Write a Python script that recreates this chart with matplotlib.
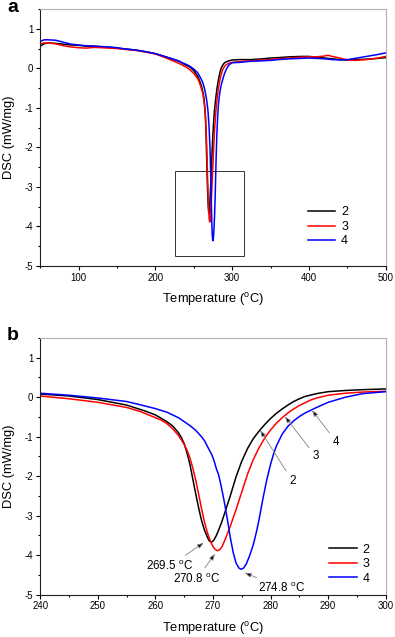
import numpy as np
import matplotlib
matplotlib.use("Agg")
import matplotlib.pyplot as plt
from matplotlib.patches import Rectangle
from matplotlib.ticker import MultipleLocator

plt.rcParams["font.family"] = ["Liberation Sans", "DejaVu Sans"]
plt.rcParams["mathtext.default"] = "regular"
plt.rcParams["axes.unicode_minus"] = False

# peak region
peak_x_2 = [240, 245, 250, 255, 258, 260, 262, 263, 264, 264.5, 265, 265.5, 266, 266.5, 267, 267.5,
            268, 268.5, 269, 269.3, 269.6, 269.9, 270.2, 270.6, 271, 271.5, 272, 273, 274, 275, 276,
            277, 278, 279, 280, 281, 282, 283, 284, 285, 286, 288, 290, 293, 296, 300]
peak_y_2 = [0.08, 0.03, -0.06, -0.20, -0.34, -0.45, -0.62, -0.73, -0.90, -1.02, -1.18, -1.42, -1.71,
            -2.08, -2.45, -2.80, -3.12, -3.36, -3.54, -3.63, -3.67, -3.66, -3.61, -3.50, -3.36, -3.17,
            -2.95, -2.50, -2.02, -1.62, -1.30, -1.05, -0.86, -0.69, -0.54, -0.41, -0.30, -0.20, -0.11,
            -0.04, 0.02, 0.09, 0.14, 0.17, 0.19, 0.21]

peak_x_3 = [240, 245, 250, 255, 257.3, 260, 261, 262, 263, 264, 264.5, 265, 265.5, 266, 266.5, 267,
            267.5, 268, 268.5, 269, 269.5, 270, 270.4, 270.8, 271.2, 271.6, 272, 272.5, 273, 274, 275,
            276, 277, 278, 279, 280, 281, 282, 283, 284, 285, 286, 287, 288, 290, 293, 296, 300]
peak_y_3 = [0.03, -0.04, -0.13, -0.26, -0.36, -0.52, -0.58, -0.67, -0.80, -0.97, -1.08, -1.20, -1.35,
            -1.54, -1.80, -2.10, -2.45, -2.82, -3.15, -3.42, -3.63, -3.79, -3.86, -3.89, -3.86, -3.78,
            -3.64, -3.46, -3.27, -2.85, -2.40, -1.95, -1.58, -1.28, -1.03, -0.83, -0.66, -0.52, -0.40,
            -0.30, -0.21, -0.14, -0.07, -0.02, 0.05, 0.10, 0.13, 0.15]

peak_x_4 = [240, 245, 250, 255, 257.3, 260, 262, 263, 264, 265, 266, 267, 268, 268.6, 269, 269.8,
            270.2, 270.6, 271, 271.4, 272, 272.5, 273, 273.5, 274, 274.5, 274.9, 275.3, 275.8, 276.4,
            277, 277.6, 278, 278.7, 279.3, 280, 280.5, 281, 282, 283, 284, 285, 286, 287, 288, 290,
            293, 296, 300]
peak_y_4 = [0.10, 0.05, -0.02, -0.11, -0.19, -0.29, -0.38, -0.45, -0.52, -0.62, -0.72, -0.84, -1.00,
            -1.12, -1.24, -1.46, -1.62, -1.82, -1.98, -2.24, -2.68, -3.10, -3.55, -3.93, -4.20, -4.33,
            -4.36, -4.33, -4.22, -4.00, -3.74, -3.38, -3.10, -2.55, -2.12, -1.70, -1.45, -1.24, -0.94,
            -0.74, -0.60, -0.49, -0.40, -0.33, -0.26, -0.13, 0.00, 0.09, 0.14]

# full scan (panel a), outside the peak region
low_x = [50, 55, 60, 70, 80, 90, 100, 110, 120, 130, 140, 150, 160, 175, 190, 200, 210, 220, 230, 235]
low_y_2 = [0.56, 0.62, 0.64, 0.63, 0.61, 0.59, 0.58, 0.56, 0.56, 0.54, 0.53, 0.51, 0.49, 0.46, 0.41,
           0.37, 0.31, 0.25, 0.18, 0.13]
low_y_3 = [0.62, 0.64, 0.64, 0.62, 0.57, 0.54, 0.52, 0.51, 0.53, 0.52, 0.51, 0.50, 0.48, 0.45, 0.40,
           0.36, 0.29, 0.21, 0.13, 0.08]
low_y_4 = [0.68, 0.72, 0.72, 0.71, 0.66, 0.61, 0.59, 0.57, 0.56, 0.55, 0.54, 0.52, 0.49, 0.46, 0.41,
           0.37, 0.31, 0.25, 0.19, 0.14]

high_x = [310, 325, 340, 350, 360, 375, 390, 400, 410, 420, 425, 430, 440, 450, 460, 475, 490, 500]
high_y_2 = [0.22, 0.22, 0.24, 0.26, 0.27, 0.29, 0.30, 0.30, 0.28, 0.26, 0.25, 0.24, 0.22, 0.21, 0.22,
            0.23, 0.25, 0.27]
high_y_3 = [0.17, 0.19, 0.21, 0.22, 0.24, 0.26, 0.28, 0.29, 0.29, 0.31, 0.33, 0.30, 0.26, 0.21, 0.20,
            0.22, 0.26, 0.30]
high_y_4 = [0.15, 0.18, 0.19, 0.20, 0.22, 0.24, 0.25, 0.26, 0.25, 0.24, 0.23, 0.22, 0.21, 0.22, 0.25,
            0.30, 0.35, 0.39]

labels = ["2", "3", "4"]
colors = ["black", "#ff0000", "#0000ff"]

# peak temperatures and where their labels sit
peak_names = ["269.5 $^{o}$C", "270.8 $^{o}$C", "274.8 $^{o}$C"]
peak_tips = [(268.4, -3.69), (270.35, -3.97), (275.5, -4.45)]
peak_text = [(262.5, -4.27), (267.2, -4.60), (281.9, -4.83)]
curve_tips = [(278.2, -0.84), (282.5, -0.49), (287.2, -0.33)]
curve_text = [(283.8, -2.12), (287.85, -1.50), (291.4, -1.13)]

peak_x = [peak_x_2, peak_x_3, peak_x_4]
peak_y = [peak_y_2, peak_y_3, peak_y_4]
low_y = [low_y_2, low_y_3, low_y_4]
high_y = [high_y_2, high_y_3, high_y_4]


def style_axes(ax, major, minor):
    ax.set_ylim(-5, 1.5)
    ax.yaxis.set_major_locator(MultipleLocator(1))
    ax.yaxis.set_minor_locator(MultipleLocator(0.5))
    ax.xaxis.set_major_locator(MultipleLocator(major))
    ax.xaxis.set_minor_locator(MultipleLocator(minor))
    ax.tick_params(which="both", direction="out", top=False, right=False, labelsize=6.9, pad=2,
                   width=0.8)
    ax.tick_params(which="major", length=3)
    ax.tick_params(which="minor", length=1.6)
    for s in ["top", "right"]:
        ax.spines[s].set_color("#b0b0b0")
        ax.spines[s].set_linewidth(0.8)
    for s in ["left", "bottom"]:
        ax.spines[s].set_color("#202020")
        ax.spines[s].set_linewidth(0.8)
    ax.set_xlabel("Temperature ($^{o}$C)", fontsize=9.3, va="center")
    ax.set_ylabel("DSC (mW/mg)", fontsize=9.3)
    ax.xaxis.set_label_coords(0.5, -0.131)
    ax.yaxis.set_label_coords(-0.074, 0.5)


fig = plt.figure(figsize=(3.95, 6.37), dpi=100)
ax1 = fig.add_axes([0.102, 0.5824, 0.8745, 0.4035])
ax2 = fig.add_axes([0.102, 0.0667, 0.8745, 0.4027])

for i in range(3):
    x_all = low_x + peak_x[i] + high_x
    y_all = low_y[i] + peak_y[i] + high_y[i]
    ax1.plot(x_all, y_all, color=colors[i], lw=1.1, label=labels[i])
    ax2.plot(peak_x[i], peak_y[i], color=colors[i], lw=1.1, label=labels[i])

ax1.set_xlim(50, 500)
style_axes(ax1, 100, 50)
ax1.add_patch(Rectangle((225, -4.75), 90, 2.15, fill=False, ec="#333333", lw=0.7))

ax2.set_xlim(240, 300)
style_axes(ax2, 10, 5)

arrow = dict(arrowstyle="-|>,head_length=0.45,head_width=0.16", ec="#808080", fc="black",
             lw=0.6, shrinkA=1, shrinkB=0)
for name, tip, pos in zip(peak_names, peak_tips, peak_text):
    ax2.annotate(name, xy=tip, xytext=pos, ha="center", va="center", fontsize=8.4,
                 arrowprops=arrow)
for name, tip, pos in zip(labels, curve_tips, curve_text):
    ax2.annotate(name, xy=tip, xytext=pos, ha="center", va="center", fontsize=8.4,
                 arrowprops=arrow)

for ax, anchor in [(ax1, (0.775, 0.152)), (ax2, (0.836, 0.118))]:
    ax.legend(loc="center left", bbox_to_anchor=anchor, frameon=False, fontsize=9,
              handlelength=2.2, handletextpad=0.45, labelspacing=0.2, borderpad=0,
              borderaxespad=0)

fig.text(0.018, 0.981, "a", fontsize=14, fontweight="bold", va="baseline")
fig.text(0.018, 0.4662, "b", fontsize=14, fontweight="bold", va="baseline")

fig.savefig("out.png", dpi=100)
